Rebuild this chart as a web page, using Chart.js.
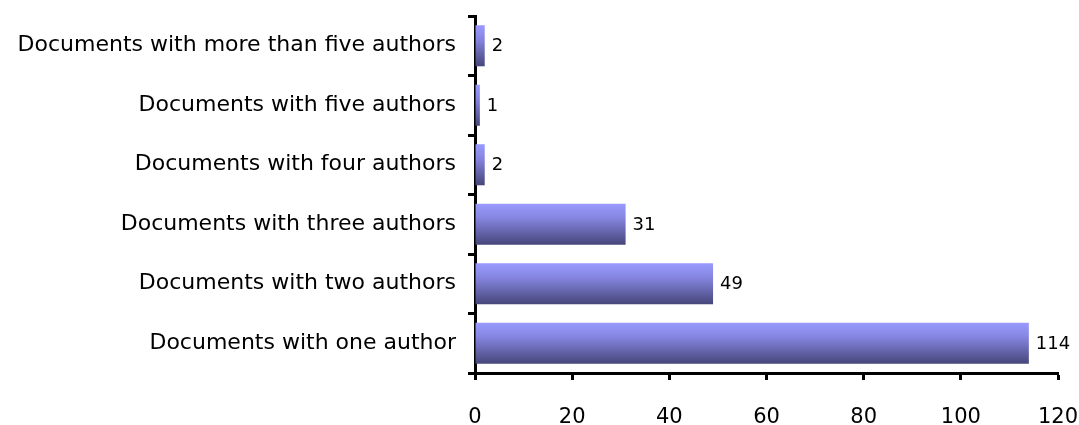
<!DOCTYPE html>
<html>
<head>
<meta charset="utf-8">
<title>Documents by number of authors</title>
<script src="https://cdn.jsdelivr.net/npm/chart.js@4/dist/chart.umd.min.js"></script>
<style>
  html, body { margin: 0; padding: 0; background: #fff; }
  #wrap { width: 1079px; height: 425px; }
</style>
</head>
<body>
<div id="wrap"><canvas id="authorsChart" width="1079" height="425"></canvas></div>
<script>
// categories from top to bottom
const categories = [
  'Documents with more than five authors',
  'Documents with five authors',
  'Documents with four authors',
  'Documents with three authors',
  'Documents with two authors',
  'Documents with one author'
];
const documentCounts = [2, 1, 2, 31, 49, 114];
const xTicks = [0, 20, 40, 60, 80, 100, 120];

const BAR_PCT = 0.69;

// vertical gradient for each bar, light lavender on top, dark navy below
function barGradient(ctx) {
  const chart = ctx.chart;
  const yScale = chart.scales.y;
  if (!yScale || ctx.dataIndex === undefined) return '#8080e0';
  const center = yScale.getPixelForValue(ctx.dataIndex);
  const step = Math.abs(yScale.getPixelForValue(1) - yScale.getPixelForValue(0));
  if (!isFinite(center) || !isFinite(step) || step === 0) return '#8080e0';
  const half = step * BAR_PCT / 2;
  const g = chart.ctx.createLinearGradient(0, center - half, 0, center + half);
  g.addColorStop(0, '#9a9aff');
  g.addColorStop(0.35, '#8585e0');
  g.addColorStop(1, '#46467a');
  return g;
}

// value labels to the right of each bar
const valueLabels = {
  id: 'valueLabels',
  afterDatasetsDraw(chart) {
    const ctx = chart.ctx;
    const meta = chart.getDatasetMeta(0);
    ctx.save();
    ctx.font = '18px "DejaVu Sans"';
    ctx.fillStyle = '#000';
    ctx.textAlign = 'left';
    ctx.textBaseline = 'middle';
    meta.data.forEach((bar, i) => {
      const p = bar.getProps(['x', 'y'], true);
      ctx.fillText(String(documentCounts[i]), p.x + 7, p.y + 1);
    });
    ctx.restore();
  }
};

new Chart(document.getElementById('authorsChart'), {
  type: 'bar',
  data: {
    labels: categories,
    datasets: [{
      data: documentCounts,
      backgroundColor: barGradient,
      borderWidth: 0,
      categoryPercentage: 1,
      barPercentage: BAR_PCT
    }]
  },
  options: {
    indexAxis: 'y',
    responsive: false,
    animation: false,
    layout: { padding: { top: 16, right: 21, left: 0, bottom: 0 } },
    plugins: {
      legend: { display: false },
      tooltip: { enabled: false }
    },
    scales: {
      x: {
        min: 0,
        max: 120,
        afterBuildTicks(scale) {
          scale.ticks = xTicks.map(v => ({ value: v }));
        },
        afterFit(scale) {
          scale.height = 52;
          scale.paddingLeft = 0;
          scale.paddingRight = 0;
        },
        border: { display: true, color: '#000', width: 3 },
        grid: {
          drawOnChartArea: false,
          drawTicks: true,
          tickLength: 7,
          tickWidth: 3,
          tickColor: '#000'
        },
        ticks: {
          color: '#000',
          padding: 25,
          maxRotation: 0,
          font: { family: '"DejaVu Sans"', size: 21 }
        }
      },
      y: {
        afterFit(scale) {
          scale.width = 475;
          scale.paddingTop = 0;
          scale.paddingBottom = 0;
        },
        border: { display: true, color: '#000', width: 3 },
        grid: {
          offset: true,
          drawOnChartArea: false,
          drawTicks: true,
          tickLength: 7,
          tickWidth: 3,
          tickColor: '#000'
        },
        ticks: {
          color: '#000',
          padding: 12,
          font: { family: '"DejaVu Sans"', size: 22 }
        }
      }
    }
  },
  plugins: [valueLabels]
});
</script>
</body>
</html>
